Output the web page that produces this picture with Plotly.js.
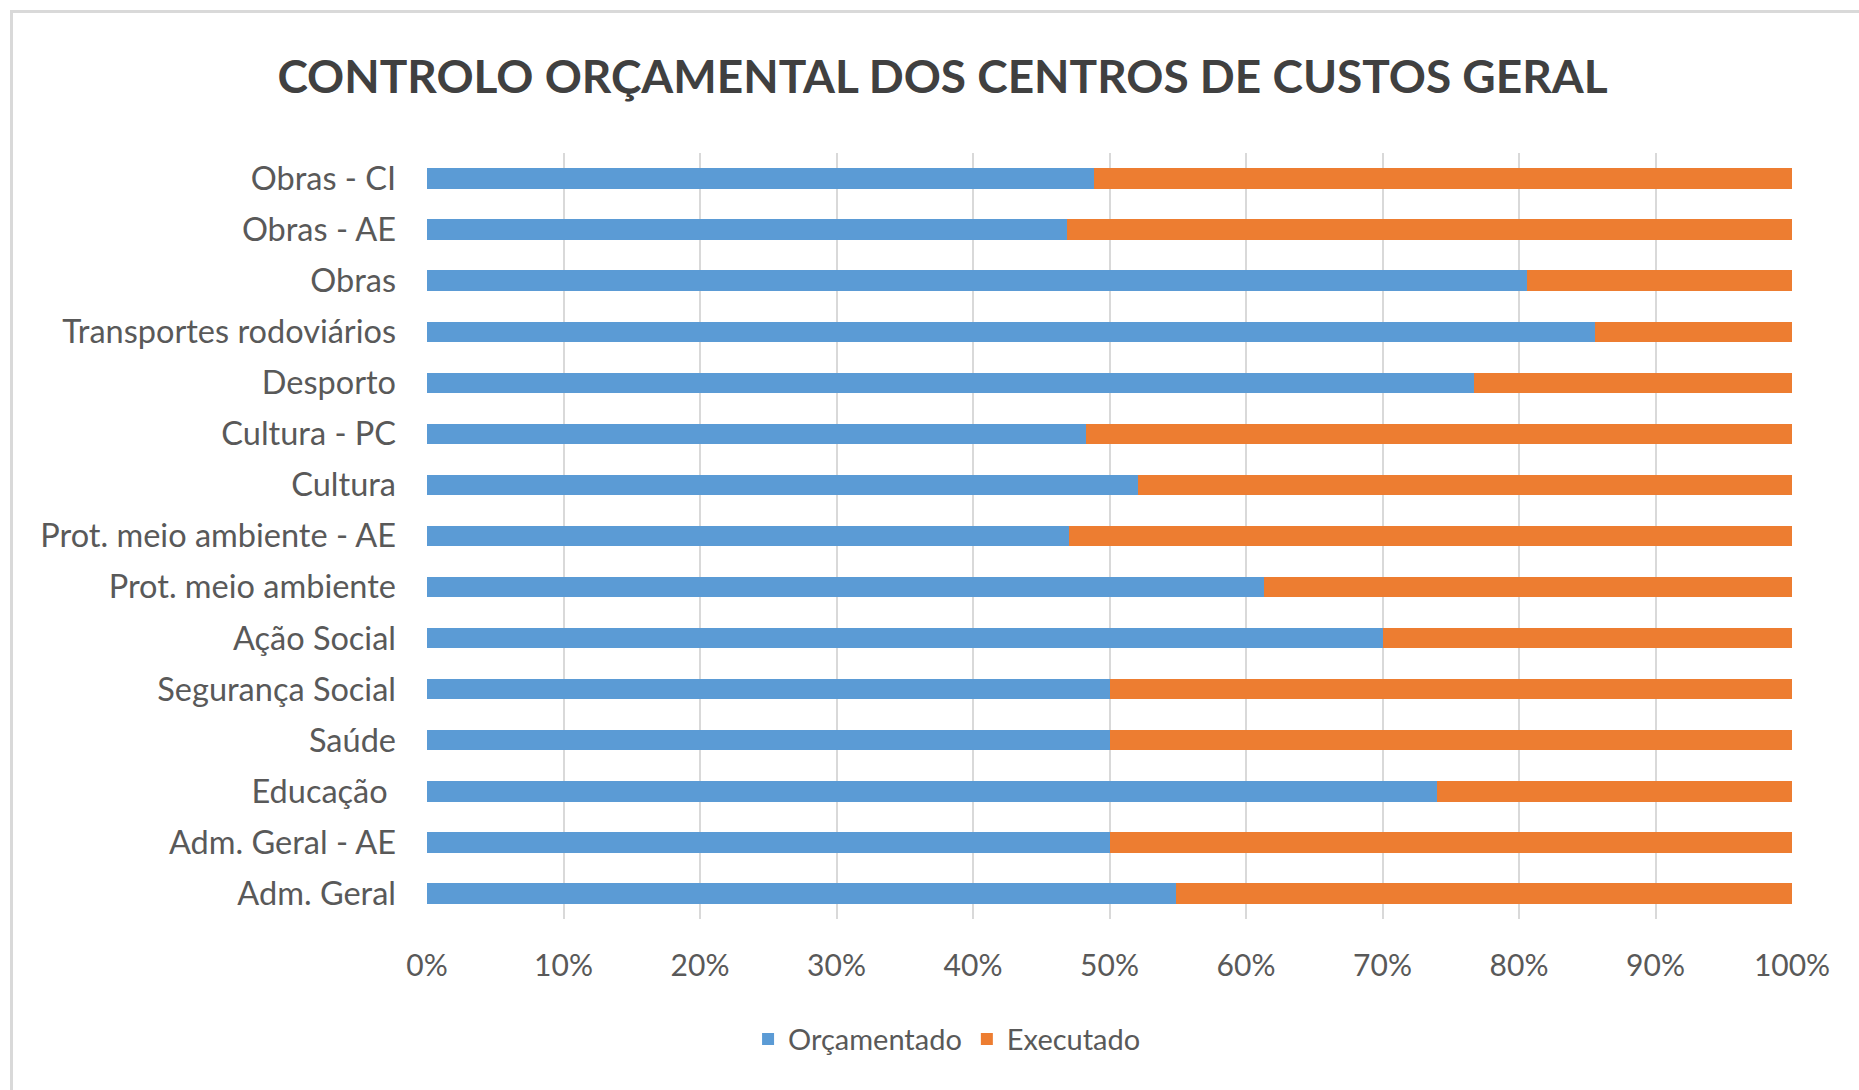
<!DOCTYPE html>
<html>
<head>
<meta charset="utf-8">
<script src="https://cdn.plot.ly/plotly-3.0.1.min.js"></script>
<style>
  html, body { margin: 0; padding: 0; background: #ffffff; }
  #frame { position: absolute; left: 10px; top: 10px; width: 1900px; height: 1100px; border-left: 3px solid #d9d9d9; border-top: 3px solid #d9d9d9; box-sizing: border-box; pointer-events: none; z-index: 5; }
  #chart { width: 1859px; height: 1090px; }
</style>
</head>
<body>
<div id="frame"></div>
<div id="chart"></div>
<script>
// Categories, top to bottom as shown
const categories = [
  "Obras - CI",
  "Obras - AE",
  "Obras",
  "Transportes rodoviários",
  "Desporto",
  "Cultura - PC",
  "Cultura",
  "Prot. meio ambiente - AE",
  "Prot. meio ambiente",
  "Ação Social",
  "Segurança Social",
  "Saúde",
  "Educação ",
  "Adm. Geral - AE",
  "Adm. Geral"
];
// Share of each bar (percent)
const orcamentado = [48.9, 46.9, 80.6, 85.6, 76.7, 48.3, 52.1, 47.0, 61.3, 70.0, 50.0, 50.0, 74.0, 50.0, 54.9];
const executado   = [51.1, 53.1, 19.4, 14.4, 23.3, 51.7, 47.9, 53.0, 38.7, 30.0, 50.0, 50.0, 26.0, 50.0, 45.1];
const xTicks = [0, 10, 20, 30, 40, 50, 60, 70, 80, 90, 100];
const xTickLabels = ["0%", "10%", "20%", "30%", "40%", "50%", "60%", "70%", "80%", "90%", "100%"];
const seriesNames = ["Orçamentado", "Executado"];

const font = "Lato, 'Open Sans', sans-serif";

const traces = [
  { type: "bar", orientation: "h", name: seriesNames[0], y: categories, x: orcamentado,
    marker: { color: "#5b9bd5" }, hoverinfo: "x+y" },
  { type: "bar", orientation: "h", name: seriesNames[1], y: categories, x: executado,
    marker: { color: "#ed7d31" }, hoverinfo: "x+y" }
];

const layout = {
  width: 1859, height: 1090,
  paper_bgcolor: "#ffffff", plot_bgcolor: "#ffffff",
  margin: { l: 427, r: 67, t: 153, b: 171 },
  barmode: "stack",
  bargap: 0.6,
  showlegend: true,
  title: {
    text: "CONTROLO ORÇAMENTAL DOS CENTROS DE CUSTOS GERAL",
    font: { family: font, size: 46, color: "#404040", weight: "bold" },
    x: 0.507, xanchor: "center", y: 0.929, yanchor: "middle"
  },
  xaxis: {
    range: [0, 100], tickvals: xTicks, ticktext: xTickLabels,
    showgrid: true, gridcolor: "#d9d9d9", gridwidth: 2,
    zeroline: false, showline: false, ticks: "",
    ticklabelstandoff: 26,
    tickfont: { family: font, size: 30, color: "#595959" },
    fixedrange: true
  },
  yaxis: {
    type: "category", autorange: "reversed",
    showgrid: false, zeroline: false,
    showline: false, ticks: "",
    ticklabelstandoff: 30,
    tickfont: { family: font, size: 32.5, color: "#595959" },
    fixedrange: true
  },
  legend: {
    orientation: "h", traceorder: "normal",
    x: 0.381, xanchor: "center", y: -0.157, yanchor: "middle",
    font: { family: font, size: 29, color: "#595959" },
    itemwidth: 30, tracegroupgap: 0
  }
};

Plotly.newPlot("chart", traces, layout, { displayModeBar: false, staticPlot: true });
</script>
</body>
</html>
